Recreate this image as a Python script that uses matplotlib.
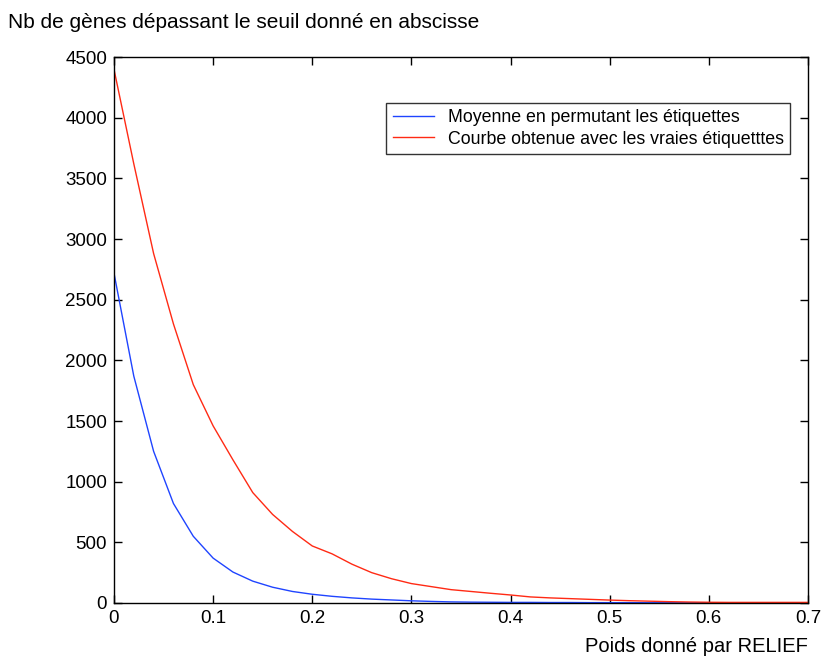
import numpy as np
import matplotlib
matplotlib.use('Agg')
import matplotlib.pyplot as plt

plt.rcParams['font.family'] = ['Liberation Sans', 'DejaVu Sans']

# seuil (poids RELIEF), pas de 0.02
seuils = np.round(np.arange(0, 0.7001, 0.02), 2)

# courbe obtenue avec les vraies etiquettes
vraies = [4400, 3620, 2880, 2300, 1800, 1460, 1180, 910, 730, 590,
          470, 405, 320, 250, 200, 160, 135, 110, 95, 80,
          66, 50, 42, 36, 30, 24, 19, 15, 11, 8,
          6, 5, 5, 5, 5, 5]

# moyenne en permutant les etiquettes
permut = [2720, 1870, 1250, 820, 550, 370, 255, 180, 130, 95,
          72, 55, 42, 32, 25, 18, 13, 9, 7, 6,
          5, 5, 4, 4, 3, 3, 3, 2, 2, 1,
          1, 1, 1, 1, 1, 1]

labels = ['Moyenne en permutant les étiquettes',
          'Courbe obtenue avec les vraies étiquetttes']

fig = plt.figure(figsize=(8.24, 6.57), dpi=100)
ax = fig.add_axes([0.1383, 0.0822, 0.8423, 0.831])

ax.plot(seuils, permut, color='#1f44ff', lw=1.0, label=labels[0])
ax.plot(seuils, vraies, color='#ff2a14', lw=1.0, label=labels[1])

ax.set_xlim(0, 0.7)
ax.set_ylim(0, 4500)
ax.set_xticks(np.arange(0, 0.71, 0.1))
ax.set_xticklabels(['0', '0.1', '0.2', '0.3', '0.4', '0.5', '0.6', '0.7'])
ax.set_yticks(np.arange(0, 4501, 500))
ax.tick_params(direction='in', top=True, right=True, length=6, width=1,
               labelsize=13.5, pad=5)
for s in ax.spines.values():
    s.set_linewidth(1)

leg = ax.legend(loc='upper right', bbox_to_anchor=(0.974, 0.916),
                fontsize=12.8, frameon=True, fancybox=False, handlelength=2.3,
                borderpad=0.35, labelspacing=0.25, borderaxespad=0)
leg.get_frame().set_edgecolor('black')
leg.get_frame().set_linewidth(1)

fig.text(0.01, 0.965, 'Nb de gènes dépassant le seuil donné en abscisse',
         fontsize=15, ha='left', va='center')
fig.text(0.9806, 0.016, 'Poids donné par RELIEF', fontsize=14.5,
         ha='right', va='center')

fig.savefig('out.png', dpi=100)
